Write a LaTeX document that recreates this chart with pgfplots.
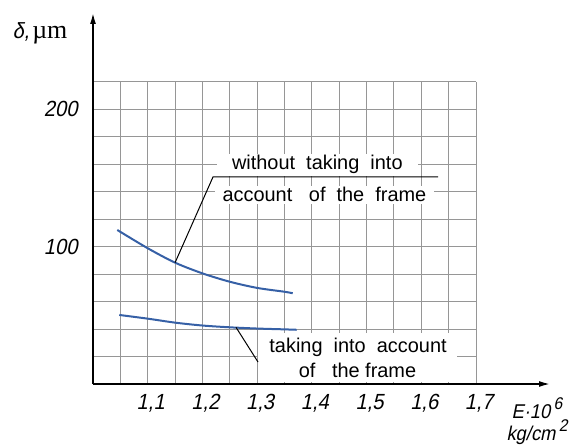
\documentclass[border=0pt]{standalone}
\usepackage{fontspec}
\setmainfont{Liberation Sans}
\newfontfamily\gost[FakeStretch=0.92,FakeSlant=0.2]{Liberation Sans}
\newfontfamily\serif{Liberation Serif}
\usepackage{pgfplots}
\pgfplotsset{compat=1.18}
\usetikzlibrary{arrows.meta}
\definecolor{curve}{RGB}{54,96,166}
\definecolor{gridc}{RGB}{150,150,150}
\begin{document}
\begin{tikzpicture}
\begin{axis}[
  name=ax,
  scale only axis, width=383bp, height=302bp,
  xmin=1.0, xmax=1.7, ymin=0, ymax=220,
  axis lines=left,
  clip=false,
  x axis line style={line width=1.6bp, -{Latex[length=11bp,width=6bp]}, shorten >=-74bp},
  y axis line style={line width=1.6bp, -{Latex[length=11bp,width=6bp]}, shorten >=-69bp},
  xtick={1.1,1.2,1.3,1.4,1.5,1.6,1.7},
  minor xtick={1.05,1.15,1.25,1.35,1.45,1.55,1.65},
  xticklabels={{1,1},{1,2},{1,3},{1,4},{1,5},{1,6},{1,7}},
  ytick={100,200},
  minor ytick={20,40,60,80,120,140,160,180,220},
  yticklabels={100,200},
  grid=both,
  major grid style={gridc, line width=1bp},
  minor grid style={gridc, line width=1bp},
  major tick length=0pt, minor tick length=0pt,
  tick label style={font=\gost\fontsize{22}{24}\selectfont},
  xticklabel style={yshift=-7bp, xshift=3bp},
  yticklabel style={xshift=-12bp},
  every axis y label/.style={at={(rel axis cs:0,1)}, anchor=center, xshift=-53bp, yshift=49bp},
  ylabel={{\gost\fontsize{22}{24}\selectfont δ,}\ {\serif\fontsize{26}{28}\selectfont µm}},
  every axis x label/.style={at={(rel axis cs:1,0)}, anchor=center, xshift=61bp, yshift=-37bp, align=center, font=\gost\fontsize{20}{15}\selectfont},
  xlabel={E·10\,\raisebox{9bp}{\fontsize{17}{17}\selectfont 6}\\kg/cm\,\raisebox{9bp}{\fontsize{17}{17}\selectfont 2}},
]
\addplot[curve, line width=2bp, smooth] coordinates {
  (1.0444,112.2) (1.1,98.9) (1.15,88.4) (1.2,80.6) (1.25,74.5) (1.3,70.0) (1.35,67.2) (1.365,66.1)
};
\addplot[curve, line width=2bp, smooth] coordinates {
  (1.048,50.3) (1.1,47.6) (1.15,44.7) (1.2,42.6) (1.25,41.3) (1.3,40.4) (1.35,39.8) (1.372,39.5)
};
% upper annotation
\node[fill=white, inner xsep=15bp, inner ysep=2bp, anchor=base, font=\fontsize{20}{22}\selectfont] at (axis cs:1.410,155.9) {without\ \ taking\ \ into};
\node[fill=white, inner xsep=8bp, inner ysep=2bp, anchor=base, font=\fontsize{20}{22}\selectfont] at (axis cs:1.423,132.6) {account\ \ \ of\ \ the\ \ frame};
\draw[line width=1bp] (axis cs:1.150,88.4) -- (axis cs:1.2193,150.8) -- (axis cs:1.6306,150.8);
% lower annotation
\fill[white] (axis cs:1.3016,1.5) rectangle (axis cs:1.6654,37);
\node[anchor=base, inner sep=0pt, font=\fontsize{20}{22}\selectfont] at (axis cs:1.4844,22.6) {taking\ \ into\ \ account};
\node[anchor=base, inner sep=0pt, font=\fontsize{20}{22}\selectfont] at (axis cs:1.4834,4.4) {of\ \ \ the frame};
\draw[line width=1bp] (axis cs:1.2614,41.3) -- (axis cs:1.3016,16.0);
\end{axis}
\path ([shift={(-93bp,-57bp)}]ax.south west) rectangle ([shift={(108bp,82bp)}]ax.north east);
\end{tikzpicture}
\end{document}
